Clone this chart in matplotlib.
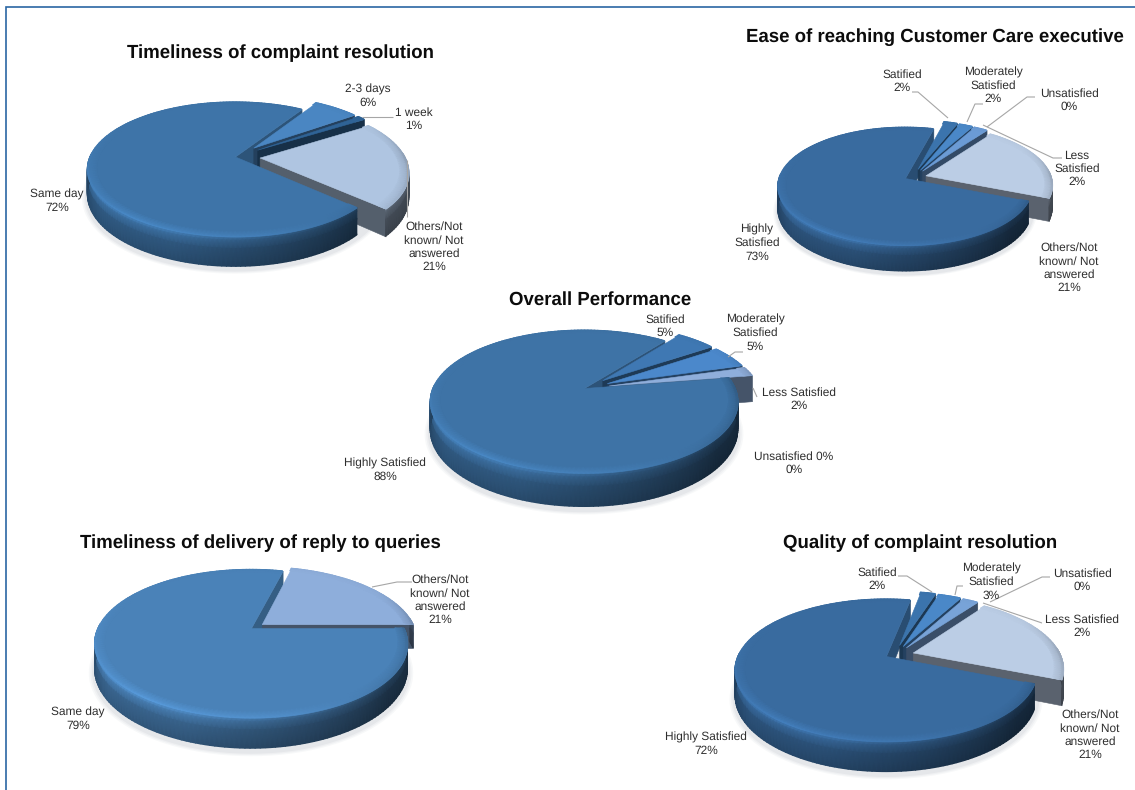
import numpy as np
import matplotlib
matplotlib.use("Agg")
import matplotlib.pyplot as plt
from matplotlib.collections import PolyCollection

plt.rcParams['font.family'] = ['Liberation Sans', 'DejaVu Sans']
plt.rcParams['text.hinting'] = 'no_hinting'

# Survey results, one set of lists per pie (slices run clockwise)
complaint_title = "Timeliness of complaint resolution"
complaint_names = ["Same day", "2-3 days", "1 week", "Others/Not\nknown/ Not\nanswered"]
complaint_values = [72, 6, 1, 21]

ease_title = "Ease of reaching Customer Care executive"
ease_names = ["Highly\nSatisfied", "Satified", "Moderately\nSatisfied", "Unsatisfied",
              "Less\nSatisfied", "Others/Not\nknown/ Not\nanswered"]
ease_values = [73, 2, 2, 0, 2, 21]

overall_title = "Overall Performance"
overall_names = ["Highly Satisfied", "Satified", "Moderately\nSatisfied", "Less Satisfied",
                 "Unsatisfied 0%"]
overall_values = [88, 5, 5, 2, 0]

reply_title = "Timeliness of delivery of reply to queries"
reply_names = ["Same day", "Others/Not\nknown/ Not\nanswered"]
reply_values = [79, 21]

quality_title = "Quality of complaint resolution"
quality_names = ["Highly Satisfied", "Satified", "Moderately\nSatisfied", "Unsatisfied",
                 "Less Satisfied", "Others/Not\nknown/ Not\nanswered"]
quality_values = [72, 2, 3, 0, 2, 21]


def pie_style(cx, cy, rx, ry, p, depth, start, explode, tilt, colors, title_xy, label_xy, leaders):
    return dict(cx=cx, cy=cy, rx=rx, ry=ry, p=p, depth=depth, start=start, explode=explode,
                tilt=tilt, colors=colors, title_xy=title_xy, label_xy=label_xy, leaders=leaders)


# Layout of each pie, in pixels from the top left of the page
complaint_style = pie_style(
    235, 156.5, 145, 65, 0.19, 24, -43,
    [0, 0.19, 0.19, 0.17], 0,
    ["#3E74A8", "#4A86C2", "#2F6396", "#AFC5E1"],
    (280, 52),
    [(57, 201), (368, 96), (414, 119), (434, 247)],
    [[(393, 117), (362, 117)], [(407, 217), (407, 160)]])

ease_style = pie_style(
    905, 178, 126, 58, 0.14, 22, -22,
    [0, 0.19, 0.19, 0.19, 0.19, 0.17], -14,
    ["#396B9F", "#3B74AD", "#4A88C8", "#6B9BD5", "#6B9BD5", "#BBCDE5"],
    (935, 36),
    [(757, 243), (902, 81), (993, 86), (1069, 100), (1077, 169), (1069, 268)],
    [[(912, 92), (918, 92), (948, 118)], [(983, 104), (975, 104), (967, 122)],
     [(1035, 97), (1027, 97), (987, 127)], [(1062, 158), (1053, 158), (983, 125)]])

overall_style = pie_style(
    584, 388, 151, 69, 0.19, 27, 9,
    [0, 0.17, 0.17, 0.17, 0.17], 0,
    ["#3E73A6", "#3F78B3", "#4B88CB", "#8FAEDB", "#8FAEDB"],
    (600, 299),
    [(385, 470), (665, 326), (755, 333), (799, 399), (794, 463)],
    [[(743, 352), (735, 352), (728, 357)], [(757, 397), (753, 388)]])

reply_style = pie_style(
    251, 628, 153, 71, 0.21, 24, 0,
    [0, 0.09], 0,
    ["#4A82B8", "#8EAEDB"],
    (260, 542),
    [(78, 719), (440, 600)],
    [[(412, 582), (397, 582), (372, 587)]])

quality_style = pie_style(
    886, 656, 148, 68.5, 0.2, 24, -22,
    [0, 0.19, 0.19, 0.19, 0.19, 0.19], -14,
    ["#396B9F", "#3B74AD", "#4A88C8", "#78A3D8", "#78A3D8", "#BBCDE5"],
    (920, 542),
    [(706, 744), (877, 579), (991, 582), (1082, 580), (1082, 626), (1090, 735)],
    [[(898, 576), (907, 576), (932, 592)], [(963, 586), (957, 586), (955, 595)],
     [(1050, 577), (1042, 577), (990, 602)], [(1042, 623), (983, 603)]])


def shaded(color, factor):
    rgb = np.array(matplotlib.colors.to_rgb(color)) * factor
    return tuple(np.clip(rgb, 0, 1))


# light falls from the front left, the right hand side stays dark
def side_factor(deg):
    return np.interp(deg % 360, [0, 150, 180, 215, 250, 285, 320, 360],
                     [0.36, 0.5, 0.62, 0.78, 0.74, 0.56, 0.38, 0.36])


def bevel_factor(deg):
    return np.interp(deg % 360, [0, 30, 150, 190, 235, 280, 320, 360],
                     [0.8, 0.97, 1.0, 1.08, 1.2, 1.1, 0.92, 0.8])


def project(st, u, v, drop=0.0):
    w = 1 + st['p'] * v
    return st['cx'] + st['rx'] * u / w, st['cy'] - st['ry'] * v / w + drop * st['depth'] / w


def add_polys(ax, polys, colors):
    pc = PolyCollection(polys, facecolors=colors, edgecolors=colors, linewidths=0.4)
    ax.add_collection(pc)


def slice_geometry(a_hi, a_lo, explode, tilt):
    mid = np.radians((a_hi + a_lo) / 2 + tilt)
    du, dv = explode * np.cos(mid), explode * np.sin(mid)
    n = max(int((a_hi - a_lo) / 1.5), 3) + 1
    return du, dv, np.linspace(a_hi, a_lo, n)


# the flat cut face on the clockwise end of a slice
def draw_end_wall(ax, st, a_lo, du, dv, color, shade):
    if np.cos(np.radians(a_lo)) <= 0:
        return
    rim_u = du + np.cos(np.radians(a_lo))
    rim_v = dv + np.sin(np.radians(a_lo))
    quad = [project(st, du, dv), project(st, rim_u, rim_v),
            project(st, rim_u, rim_v, 1), project(st, du, dv, 1)]
    add_polys(ax, [quad], [shaded(color, shade)])


def draw_side_and_top(ax, st, du, dv, degs, color):
    rad = np.radians(degs)
    rgb = np.array(matplotlib.colors.to_rgb(color))
    facing = np.sin(rad) < 0.08
    if facing.sum() >= 2:
        # outer wall, lit near the rim and fading towards the base
        drops = np.array([0, 0.12, 0.4, 1.0])
        gains = np.array([1.5, 1.28, 1.02, 0.86])
        u = du + np.cos(rad[facing])
        v = dv + np.sin(rad[facing])
        xs, ys = project(st, u[None, :], v[None, :], drops[:, None])
        base = side_factor(degs[facing])
        cols = np.clip(gains[:, None, None] * base[None, :, None] * rgb, 0, 1)
        ax.pcolormesh(xs, ys, cols, shading='gouraud')

    # top surface with a soft bevel following the rim
    arc = [project(st, du + np.cos(r), dv + np.sin(r)) for r in rad]
    add_polys(ax, [[project(st, du, dv)] + arc], [shaded(color, 1.0)])

    radii = np.array([1.0, 0.985, 0.94])
    xs, ys = project(st, du + radii[:, None] * np.cos(rad), dv + radii[:, None] * np.sin(rad))
    rim = bevel_factor(degs)
    mix = np.array([1.0, 0.75, 0.0])
    factor = 1 + mix[:, None] * (rim[None, :] - 1)
    ax.pcolormesh(xs, ys, np.clip(factor[:, :, None] * rgb, 0, 1), shading='gouraud')


def draw_shadow(ax, st):
    theta = np.radians(np.arange(0, 360, 3))
    for grow, alpha in zip([1.035, 1.025, 1.015], [0.05, 0.06, 0.08]):
        ring = [project(st, grow * np.cos(t), grow * np.sin(t), 1.12) for t in theta]
        ax.add_collection(PolyCollection([ring], facecolors=[(0.45, 0.5, 0.55, alpha)],
                                         edgecolors='none'))


def draw_pie(ax, title, names, values, st):
    draw_shadow(ax, st)

    # slices run clockwise from the start angle of the first one
    bounds = []
    a = st['start']
    for val in values:
        bounds.append((a, a - val * 3.6))
        a -= val * 3.6

    # first slice's end face sits behind everything else
    big_hi, big_lo = bounds[0]
    draw_end_wall(ax, st, big_lo, 0, 0, st['colors'][0], 0.72)

    for i in range(1, len(values)):
        if values[i] == 0:
            continue
        a_hi, a_lo = bounds[i]
        tilt = st['tilt'] if values[i] < 10 else 0
        du, dv, degs = slice_geometry(a_hi, a_lo, st['explode'][i], tilt)
        draw_end_wall(ax, st, a_lo, du, dv, st['colors'][i], 0.48)
        draw_side_and_top(ax, st, du, dv, degs, st['colors'][i])

    du, dv, degs = slice_geometry(big_hi, big_lo, st['explode'][0], 0)
    draw_side_and_top(ax, st, du, dv, degs, st['colors'][0])

    for leader in st['leaders']:
        xs, ys = zip(*leader)
        ax.plot(xs, ys, color="#a6a6a6", lw=0.8, solid_capstyle='butt')

    ax.text(st['title_xy'][0], st['title_xy'][1] + 1, title, ha='center', va='center',
            fontsize=13.4, fontweight='bold', color="#0c0c0c")
    for name, val, (x, y) in zip(names, values, st['label_xy']):
        ax.text(x, y, f"{name}\n{val}%", ha='center', va='center', fontsize=8.6,
                color="#2e2e2e", linespacing=1.24)


fig = plt.figure(figsize=(11.35, 7.9), dpi=100, facecolor='white')
ax = fig.add_axes([0, 0, 1, 1])
ax.set_xlim(0, 1135)
ax.set_ylim(790, 0)
ax.axis('off')

# page frame, open on the right and along the bottom
ax.plot([6, 6, 1135], [790, 7, 7], color="#2A66A3", lw=1.2, solid_joinstyle='miter')

draw_pie(ax, complaint_title, complaint_names, complaint_values, complaint_style)
draw_pie(ax, ease_title, ease_names, ease_values, ease_style)
draw_pie(ax, overall_title, overall_names, overall_values, overall_style)
draw_pie(ax, reply_title, reply_names, reply_values, reply_style)
draw_pie(ax, quality_title, quality_names, quality_values, quality_style)

ax.set_xlim(0, 1135)
ax.set_ylim(790, 0)
fig.savefig("out.png", dpi=100)
